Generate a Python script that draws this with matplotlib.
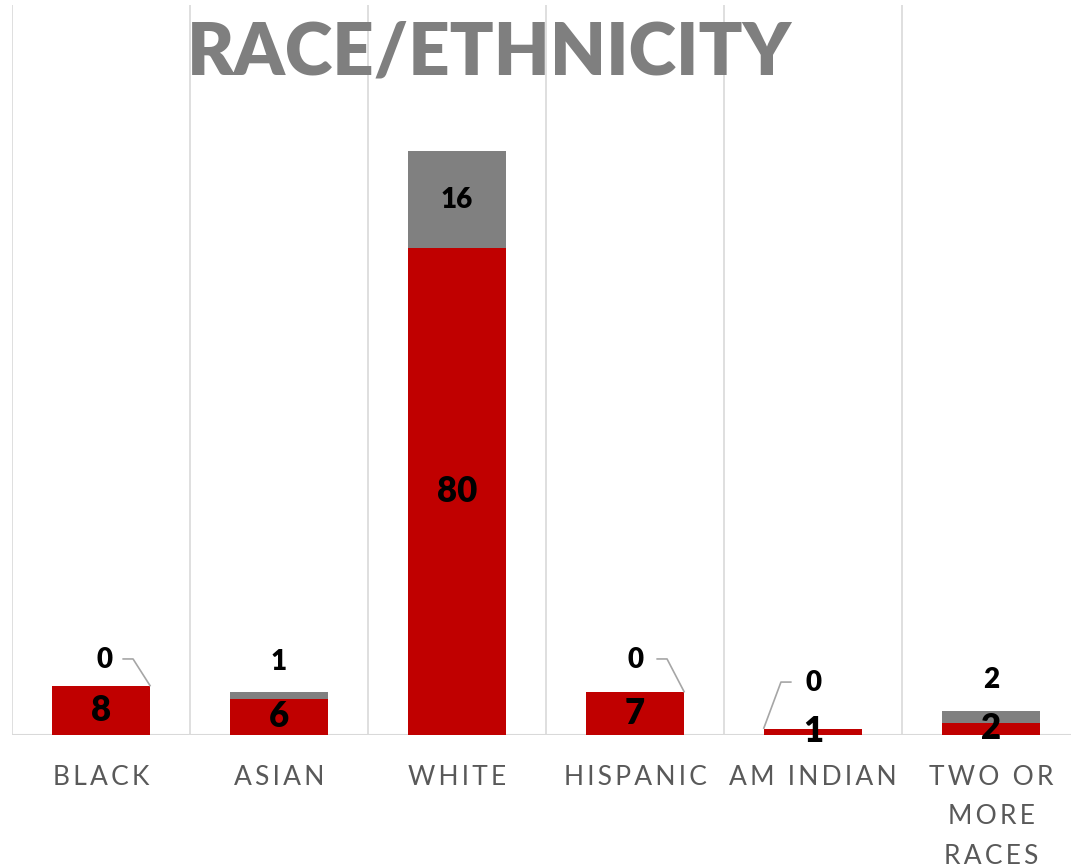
import matplotlib.pyplot as plt

plt.rcParams['font.family'] = ['Lato', 'DejaVu Sans']

categories = ['BLACK', 'ASIAN', 'WHITE', 'HISPANIC', 'AM INDIAN', 'TWO OR\nMORE\nRACES']
red_vals = [8, 6, 80, 7, 1, 2]
gray_vals = [0, 1, 16, 0, 0, 2]

RED = '#C00000'
GRAY = '#808080'
GRID = '#D9D9D9'
W = 0.556

fig = plt.figure(figsize=(10.71, 8.67), dpi=100)
ax = fig.add_axes([12 / 1071, 132 / 867, 1068 / 1071, 730 / 867])
ax.set_xlim(-0.5, len(categories) - 0.5)
ax.set_ylim(0, 120)

x = list(range(len(categories)))
ax.bar(x, red_vals, width=W, color=RED, zorder=3)
ax.bar(x, gray_vals, width=W, bottom=red_vals, color=GRAY, zorder=3)

for b in range(len(categories) + 1):
    ax.axvline(b - 0.5, color=GRID, lw=1.2, zorder=1)
ax.axhline(0, color=GRID, lw=1.5, zorder=2)

for s in ax.spines.values():
    s.set_visible(False)
ax.set_xticks([])
ax.set_yticks([])

# red segment labels, centred
for i, v in enumerate(red_vals):
    ax.text(i, v / 2, str(v), ha='center', va='center', fontsize=25,
            fontweight='heavy', color='black', zorder=5)

# gray segment labels
for i, (r, g) in enumerate(zip(red_vals, gray_vals)):
    if g == 0:
        continue
    if g > 10:
        ax.text(i, r + g / 2, str(g), ha='center', va='center', fontsize=20,
                fontweight='heavy', color='black', zorder=5)
    else:
        ax.annotate(str(g), (i, r + g), xytext=(0, 22), textcoords='offset points',
                    ha='center', va='center', fontsize=20, fontweight='heavy',
                    color='black', zorder=5)

# zero labels with leader lines (label dx, label y, side of bar)
zero_pos = {0: (0.02, 12.4, 1), 3: (0.0, 12.4, 1), 4: (0.0, 8.6, -1)}
for i, (dx, ly, side) in zero_pos.items():
    top = red_vals[i] + gray_vals[i]
    ax.text(i + dx, ly, '0', ha='center', va='center', fontsize=20,
            fontweight='heavy', color='black', zorder=5)
    xs = [i + side * 0.12, i + side * 0.18, i + side * W / 2]
    ys = [ly + 0.1, ly + 0.1, top]
    ax.plot(xs, ys, color='#A6A6A6', lw=1.2, zorder=4, solid_capstyle='butt')

# category labels with letter spacing
def spaced(s):
    return '\n'.join('\u2009'.join(line) for line in s.split('\n'))

for i, c in enumerate(categories):
    ax.text(i, -4.9, spaced(c), ha='center', va='top', fontsize=19,
            color='#595959', linespacing=1.72, clip_on=False)

fig.text(489 / 1071, 1 - 53 / 867, 'RACE/ETHNICITY', ha='center', va='center',
         fontsize=52, fontweight='heavy', color='#7F7F7F')

fig.savefig('out.png', dpi=100)
